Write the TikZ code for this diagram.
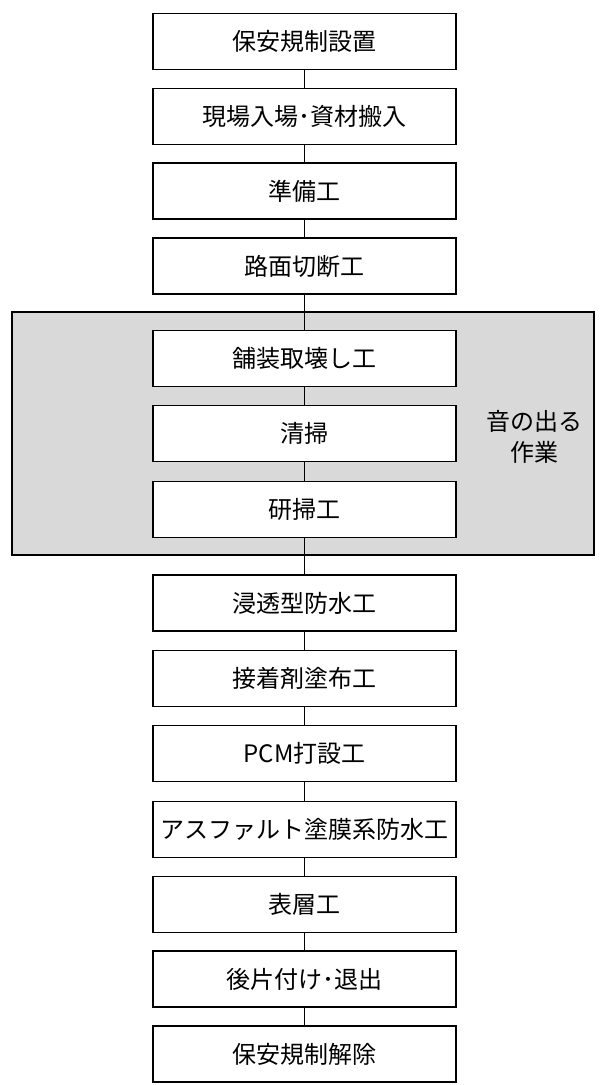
\documentclass[tikz,border=0pt]{standalone}
\usepackage{fontspec}
\newfontfamily\jpfont{Noto Sans CJK JP}
\begin{document}
\begin{tikzpicture}[x=1pt,y=-1pt,
  stepbox/.style={draw=black, line width=1.4pt, fill=white, minimum width=303pt, minimum height=56pt, inner sep=0pt, font=\jpfont\fontsize{24}{28}\selectfont},
  conn/.style={draw=black, line width=0.9pt},
  groupbox/.style={draw=black, line width=1.4pt, fill=gray!30}]
\useasboundingbox (0,0) rectangle (600,1085);
\fill[white] (0,0) rectangle (600,1085);
\draw[groupbox] (12,312) rectangle (594,555);
\node[stepbox] (b1) at (304.5,41.5) {保安規制設置};
\node[stepbox] (b2) at (304.5,116.5) {現場入場･資材搬入};
\node[stepbox] (b3) at (304.5,191) {準備工};
\node[stepbox] (b4) at (304.5,266) {路面切断工};
\node[stepbox] (b5) at (304.5,358.5) {舗装取壊し工};
\node[stepbox] (b6) at (304.5,433.5) {清掃};
\node[stepbox] (b7) at (304.5,509.5) {研掃工};
\node[stepbox] (b8) at (304.5,603) {浸透型防水工};
\node[stepbox] (b9) at (304.5,678.5) {接着剤塗布工};
\node[stepbox] (b10) at (304.5,753.5) {PCM打設工};
\node[stepbox] (b11) at (304.5,829.5) {アスファルト塗膜系防水工};
\node[stepbox] (b12) at (304.5,904.5) {表層工};
\node[stepbox] (b13) at (304.5,979) {後片付け･退出};
\node[stepbox] (b14) at (304.5,1054) {保安規制解除};
\node[font=\jpfont\fontsize{24}{31}\selectfont, align=center] (lbl) at (534,437) {音の出る\\作業};
\foreach \a/\b in {b1/b2,b2/b3,b3/b4,b4/b5,b5/b6,b6/b7,b7/b8,b8/b9,b9/b10,b10/b11,b11/b12,b12/b13,b13/b14}
  \draw[conn] (\a.south) -- (\b.north);
\end{tikzpicture}
\end{document}
